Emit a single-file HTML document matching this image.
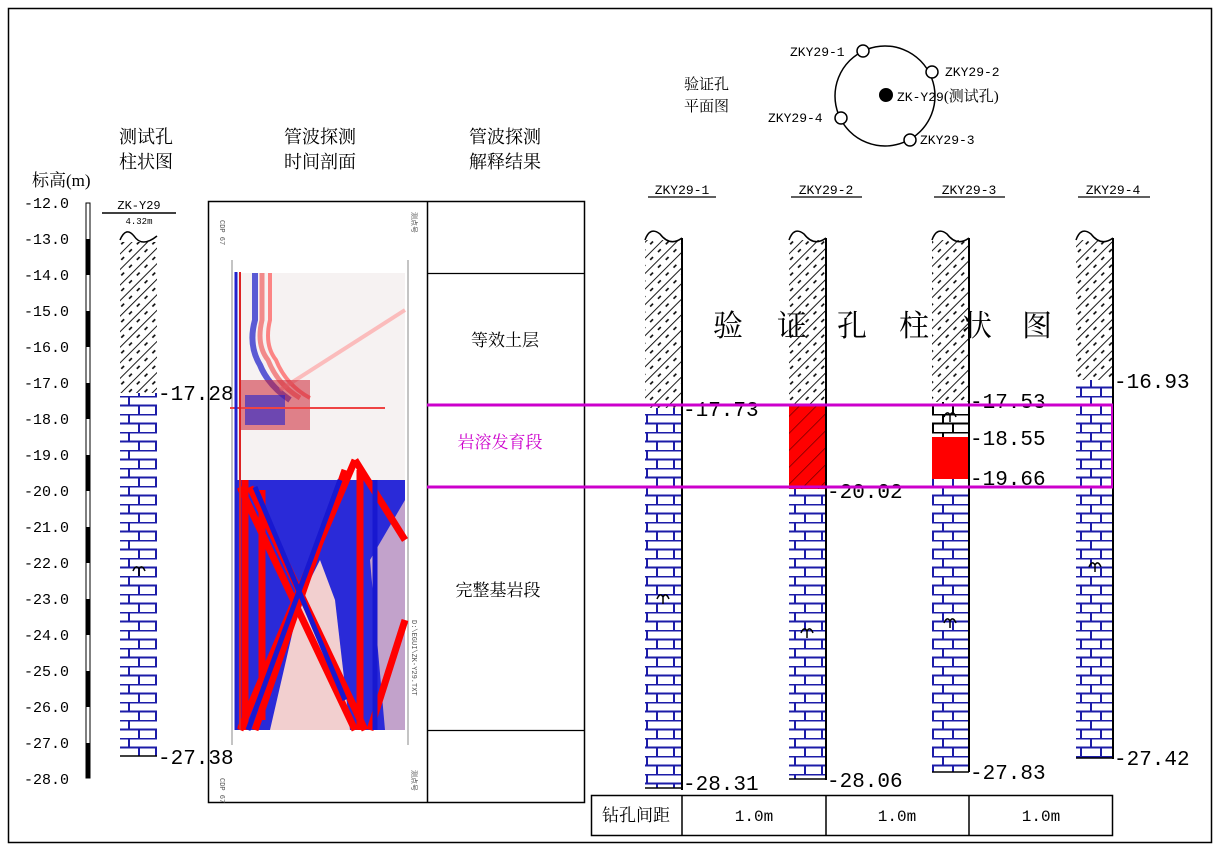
<!DOCTYPE html>
<html><head><meta charset="utf-8"><style>
body{margin:0;background:#fff}
svg text{font-family:"Liberation Mono","Noto Sans CJK SC",monospace}
.cj{font-family:"Liberation Serif","Noto Serif CJK SC","Noto Sans CJK SC",serif}
</style></head><body>
<svg width="1220" height="850" viewBox="0 0 1220 850" xmlns="http://www.w3.org/2000/svg">
<defs>
<pattern id="brick" width="37" height="18" patternUnits="userSpaceOnUse">
<rect width="37" height="18" fill="#fff"/>
<line x1="0" y1="0.5" x2="37" y2="0.5" stroke="#1c1ca8" stroke-width="2"/>
<line x1="0" y1="9.5" x2="37" y2="9.5" stroke="#1c1ca8" stroke-width="2"/>
<line x1="18" y1="0" x2="18" y2="9" stroke="#1c1ca8" stroke-width="2"/>
<line x1="8" y1="9" x2="8" y2="18" stroke="#1c1ca8" stroke-width="2"/>
<line x1="28" y1="9" x2="28" y2="18" stroke="#1c1ca8" stroke-width="2"/>
</pattern>
<pattern id="bbrick" width="37" height="18" patternUnits="userSpaceOnUse">
<rect width="37" height="18" fill="#fff"/>
<line x1="0" y1="0.5" x2="37" y2="0.5" stroke="#000" stroke-width="2"/>
<line x1="0" y1="9.5" x2="37" y2="9.5" stroke="#000" stroke-width="2"/>
<line x1="18" y1="0" x2="18" y2="9" stroke="#000" stroke-width="2"/>
<line x1="8" y1="9" x2="8" y2="18" stroke="#000" stroke-width="2"/>
<line x1="28" y1="9" x2="28" y2="18" stroke="#000" stroke-width="2"/>
</pattern>
<pattern id="soil" width="11" height="11" patternUnits="userSpaceOnUse" patternTransform="rotate(-45)">
<rect width="11" height="11" fill="#fff"/>
<line x1="0" y1="0" x2="11" y2="0" stroke="#000" stroke-width="1.8"/>
<line x1="1" y1="5.5" x2="5" y2="5.5" stroke="#000" stroke-width="1.6"/>
</pattern>
<pattern id="rsoil" width="12" height="12" patternUnits="userSpaceOnUse" patternTransform="rotate(-45)">
<rect width="12" height="12" fill="#f00"/>
<line x1="0" y1="0" x2="12" y2="0" stroke="#600" stroke-width="1.4"/>
</pattern>
<g id="sym"><path d="M-6,3 Q-3,-4 0,1 Q3,-4 6,3 M0,0 L0,8" fill="none" stroke="#000" stroke-width="1.5"/></g>
</defs>

<rect x="8.5" y="8.5" width="1203" height="834" fill="none" stroke="#000" stroke-width="1.5"/>

<!-- left scale -->
<text class="cj" x="32" y="186" font-size="17">标高(m)</text>
<g font-size="15" fill="#000">
<text x="24" y="208">-12.0</text><text x="24" y="244">-13.0</text><text x="24" y="280">-14.0</text>
<text x="24" y="316">-15.0</text><text x="24" y="352">-16.0</text><text x="24" y="388">-17.0</text>
<text x="24" y="424">-18.0</text><text x="24" y="460">-19.0</text><text x="24" y="496">-20.0</text>
<text x="24" y="532">-21.0</text><text x="24" y="568">-22.0</text><text x="24" y="604">-23.0</text>
<text x="24" y="640">-24.0</text><text x="24" y="676">-25.0</text><text x="24" y="712">-26.0</text>
<text x="24" y="748">-27.0</text><text x="24" y="784">-28.0</text>
</g>
<rect x="86" y="203" width="4" height="575" fill="#fff" stroke="#000" stroke-width="1"/>
<g fill="#000">
<rect x="86" y="239" width="4" height="36"/><rect x="86" y="311" width="4" height="36"/>
<rect x="86" y="383" width="4" height="36"/><rect x="86" y="455" width="4" height="36"/>
<rect x="86" y="527" width="4" height="36"/><rect x="86" y="599" width="4" height="36"/>
<rect x="86" y="671" width="4" height="36"/><rect x="86" y="743" width="4" height="35"/>
</g>

<!-- test hole column -->
<text class="cj" x="146" y="143" font-size="18" text-anchor="middle">测试孔</text>
<text class="cj" x="146" y="168" font-size="18" text-anchor="middle">柱状图</text>
<text x="139" y="209" font-size="12" text-anchor="middle">ZK-Y29</text>
<line x1="102" y1="213" x2="176" y2="213" stroke="#000" stroke-width="1.5"/>
<text x="139" y="224" font-size="9" text-anchor="middle">4.32m</text>
<rect x="120" y="240" width="37" height="153" fill="url(#soil)"/>
<path d="M120,240 Q126,226 134,236 Q142,248 157,236 L157,242 L120,242Z" fill="#fff"/>
<path d="M120,240 Q126,226 134,236 Q142,248 157,236" fill="none" stroke="#000" stroke-width="1.5"/>
<rect x="120" y="393" width="37" height="363" fill="url(#brick)"/>
<line x1="120" y1="756" x2="157" y2="756" stroke="#000" stroke-width="1.5"/>
<use href="#sym" x="139" y="568"/>
<text x="158" y="400" font-size="21" font-family="Liberation Serif">-17.28</text>
<text x="158" y="764" font-size="21" font-family="Liberation Serif">-27.38</text>

<!-- time section -->
<text class="cj" x="320" y="143" font-size="18" text-anchor="middle">管波探测</text>
<text class="cj" x="320" y="168" font-size="18" text-anchor="middle">时间剖面</text>
<text class="cj" x="505" y="143" font-size="18" text-anchor="middle">管波探测</text>
<text class="cj" x="505" y="168" font-size="18" text-anchor="middle">解释结果</text>
<rect x="208.5" y="201.5" width="376" height="601" fill="none" stroke="#000" stroke-width="1.5"/>
<line x1="427.5" y1="201" x2="427.5" y2="803" stroke="#000" stroke-width="1.5"/>
<line x1="427" y1="273.5" x2="584" y2="273.5" stroke="#000" stroke-width="1.2"/>
<line x1="427" y1="730.5" x2="584" y2="730.5" stroke="#000" stroke-width="1.2"/>
<g>
<rect x="236" y="273" width="169" height="457" fill="#f6f2f2"/>
<line x1="232" y1="260" x2="232" y2="745" stroke="#888" stroke-width="1"/>
<line x1="408" y1="260" x2="408" y2="745" stroke="#888" stroke-width="1"/>
<path d="M262,273 L262,320 Q256,345 268,360 Q278,385 300,398" fill="none" stroke="#e44" stroke-width="5" opacity=".6"/>
<path d="M255,273 L255,320 Q248,345 260,365 Q268,385 290,400" fill="none" stroke="#33c" stroke-width="6" opacity=".8"/>
<path d="M270,273 L270,320 Q264,345 276,360 Q286,385 310,398" fill="none" stroke="#f55" stroke-width="4" opacity=".7"/>
<line x1="280" y1="390" x2="405" y2="310" stroke="#f99" stroke-width="4" opacity=".6"/>
<rect x="240" y="380" width="70" height="50" fill="#c23" opacity=".55"/>
<rect x="245" y="395" width="40" height="30" fill="#22c" opacity=".6"/>
<line x1="230" y1="408" x2="385" y2="408" stroke="#e44" stroke-width="2"/>
<rect x="236" y="480" width="169" height="250" fill="#2a2ad8"/>
<polygon points="270,730 300,600 320,560 335,600 350,730" fill="#f2cfcf"/>
<polygon points="370,560 405,500 405,730 385,730" fill="#e8c0c8" opacity=".8"/>
<g stroke="#f00" stroke-width="7" fill="none">
<line x1="245" y1="480" x2="245" y2="730"/>
<line x1="262" y1="490" x2="262" y2="720"/>
<line x1="240" y1="487" x2="355" y2="730"/>
<line x1="250" y1="487" x2="365" y2="730"/>
<line x1="355" y1="460" x2="240" y2="730"/>
<line x1="345" y1="470" x2="255" y2="730"/>
<line x1="360" y1="470" x2="360" y2="730"/>
<line x1="355" y1="460" x2="405" y2="540"/>
<line x1="405" y1="620" x2="370" y2="730"/>
</g>
<g stroke="#1818d0" stroke-width="5" fill="none">
<line x1="340" y1="480" x2="248" y2="730"/>
<line x1="255" y1="487" x2="345" y2="700"/>
<line x1="375" y1="480" x2="375" y2="730"/>
</g>
<line x1="236" y1="272" x2="236" y2="730" stroke="#22c" stroke-width="3"/>
<line x1="240" y1="272" x2="240" y2="730" stroke="#d22" stroke-width="2"/>
</g>
<g font-size="7" fill="#555">
<text x="220" y="220" transform="rotate(90 220 220)">CDP 67</text>
<text x="220" y="778" transform="rotate(90 220 778)">CDP 67</text>
<text x="412" y="212" transform="rotate(90 412 212)">测点号</text>
<text x="412" y="770" transform="rotate(90 412 770)">测点号</text>
<text x="412" y="620" transform="rotate(90 412 620)">D:\EGUI\ZK-Y29.TXT</text>
</g>

<text class="cj" x="505" y="346" font-size="17" text-anchor="middle">等效土层</text>
<text class="cj" x="500" y="448" font-size="17" text-anchor="middle" fill="#c0c">岩溶发育段</text>
<text class="cj" x="498" y="596" font-size="17" text-anchor="middle">完整基岩段</text>

<!-- plan view -->
<text class="cj" x="684" y="89" font-size="15">验证孔</text>
<text class="cj" x="684" y="111" font-size="15">平面图</text>
<circle cx="885" cy="96" r="50" fill="none" stroke="#000" stroke-width="1.5"/>
<g fill="#fff" stroke="#000" stroke-width="1.5">
<circle cx="863" cy="51" r="6"/><circle cx="932" cy="72" r="6"/>
<circle cx="841" cy="118" r="6"/><circle cx="910" cy="140" r="6"/>
</g>
<circle cx="886" cy="95" r="7" fill="#000"/>
<g font-size="13">
<text x="790" y="56">ZKY29-1</text><text x="945" y="76">ZKY29-2</text>
<text x="768" y="122">ZKY29-4</text><text x="920" y="144">ZKY29-3</text>
<text x="897" y="101">ZK-Y29<tspan class="cj" font-size="15">(测试孔)</tspan></text>
</g>

<!-- headers -->
<g font-size="13" text-anchor="middle">
<text x="682" y="194">ZKY29-1</text><text x="826" y="194">ZKY29-2</text>
<text x="969" y="194">ZKY29-3</text><text x="1113" y="194">ZKY29-4</text>
</g>
<g stroke="#000" stroke-width="1.3">
<line x1="648" y1="197" x2="716" y2="197"/><line x1="791" y1="197" x2="862" y2="197"/>
<line x1="934" y1="197" x2="1005" y2="197"/><line x1="1078" y1="197" x2="1150" y2="197"/>
</g>

<!-- col 1 -->
<rect x="645" y="240" width="37" height="168" fill="url(#soil)"/>
<rect x="645" y="408" width="37" height="380" fill="url(#brick)"/>
<path d="M645,240 Q650,226 660,234 Q670,247 682,238" fill="none" stroke="#000" stroke-width="1.5"/>
<line x1="682" y1="238" x2="682" y2="790" stroke="#000" stroke-width="2"/>
<line x1="645" y1="788" x2="682" y2="788" stroke="#000" stroke-width="1.5"/>
<use href="#sym" x="663" y="596"/>
<!-- col 2 -->
<rect x="789" y="240" width="37" height="165" fill="url(#soil)"/>
<rect x="789" y="405" width="37" height="84" fill="url(#rsoil)"/>
<rect x="789" y="489" width="37" height="290" fill="url(#brick)"/>
<path d="M789,240 Q794,226 804,234 Q814,247 826,238" fill="none" stroke="#000" stroke-width="1.5"/>
<line x1="826" y1="238" x2="826" y2="780" stroke="#000" stroke-width="2"/>
<line x1="789" y1="779" x2="826" y2="779" stroke="#000" stroke-width="1.5"/>
<use href="#sym" x="807" y="630"/>
<!-- col 3 -->
<rect x="932" y="240" width="37" height="162" fill="url(#soil)"/>
<rect x="932" y="402" width="37" height="36" fill="url(#bbrick)"/>
<rect x="932" y="437" width="37" height="42" fill="#f00"/>
<rect x="932" y="479" width="37" height="293" fill="url(#brick)"/>
<path d="M932,240 Q937,226 947,234 Q957,247 969,238" fill="none" stroke="#000" stroke-width="1.5"/>
<line x1="969" y1="238" x2="969" y2="772" stroke="#000" stroke-width="2"/>
<line x1="932" y1="772" x2="969" y2="772" stroke="#000" stroke-width="1.5"/>
<use href="#sym" x="950" y="620"/>
<use href="#sym" x="950" y="414"/>
<!-- col 4 -->
<rect x="1076" y="240" width="37" height="140" fill="url(#soil)"/>
<rect x="1076" y="380" width="37" height="378" fill="url(#brick)"/>
<path d="M1076,240 Q1081,226 1091,234 Q1101,247 1113,238" fill="none" stroke="#000" stroke-width="1.5"/>
<line x1="1113" y1="238" x2="1113" y2="759" stroke="#000" stroke-width="2"/>
<line x1="1076" y1="758" x2="1113" y2="758" stroke="#000" stroke-width="1.5"/>
<use href="#sym" x="1095" y="564"/>

<!-- big title -->
<g class="cj" font-size="30" font-family="Liberation Serif, Noto Serif CJK SC, serif">
<text class="cj" x="713" y="336">验</text>
<text class="cj" x="777" y="336">证</text>
<text class="cj" x="837" y="336">孔</text>
<text class="cj" x="899" y="336">柱</text>
<text class="cj" x="962" y="336">状</text>
<text class="cj" x="1022" y="336">图</text>
</g>

<g font-size="21" font-family="Liberation Serif">
<text x="683" y="416">-17.73</text>
<text x="827" y="498">-20.02</text>
<text x="970" y="408">-17.53</text>
<text x="970" y="445">-18.55</text>
<text x="970" y="485">-19.66</text>
<text x="1114" y="388">-16.93</text>
<text x="683" y="790">-28.31</text>
<text x="827" y="787">-28.06</text>
<text x="970" y="779">-27.83</text>
<text x="1114" y="765">-27.42</text>
</g>

<!-- magenta band -->
<g stroke="#c0c" stroke-width="3" fill="none">
<line x1="427" y1="405" x2="1113" y2="405"/>
<line x1="427" y1="487" x2="1113" y2="487"/>
<line x1="1112" y1="405" x2="1112" y2="487" stroke-width="2"/>
</g>

<!-- bottom table -->
<rect x="591.5" y="795.5" width="521" height="40" fill="none" stroke="#000" stroke-width="1.5"/>
<g stroke="#000" stroke-width="1.5">
<line x1="682" y1="795" x2="682" y2="836"/><line x1="826" y1="795" x2="826" y2="836"/>
<line x1="969" y1="795" x2="969" y2="836"/>
</g>
<text class="cj" x="636" y="821" font-size="17" text-anchor="middle">钻孔间距</text>
<g font-size="16" text-anchor="middle" font-family="Liberation Sans">
<text x="754" y="821">1.0m</text><text x="897" y="821">1.0m</text><text x="1041" y="821">1.0m</text>
</g>
</svg>
</body></html>
